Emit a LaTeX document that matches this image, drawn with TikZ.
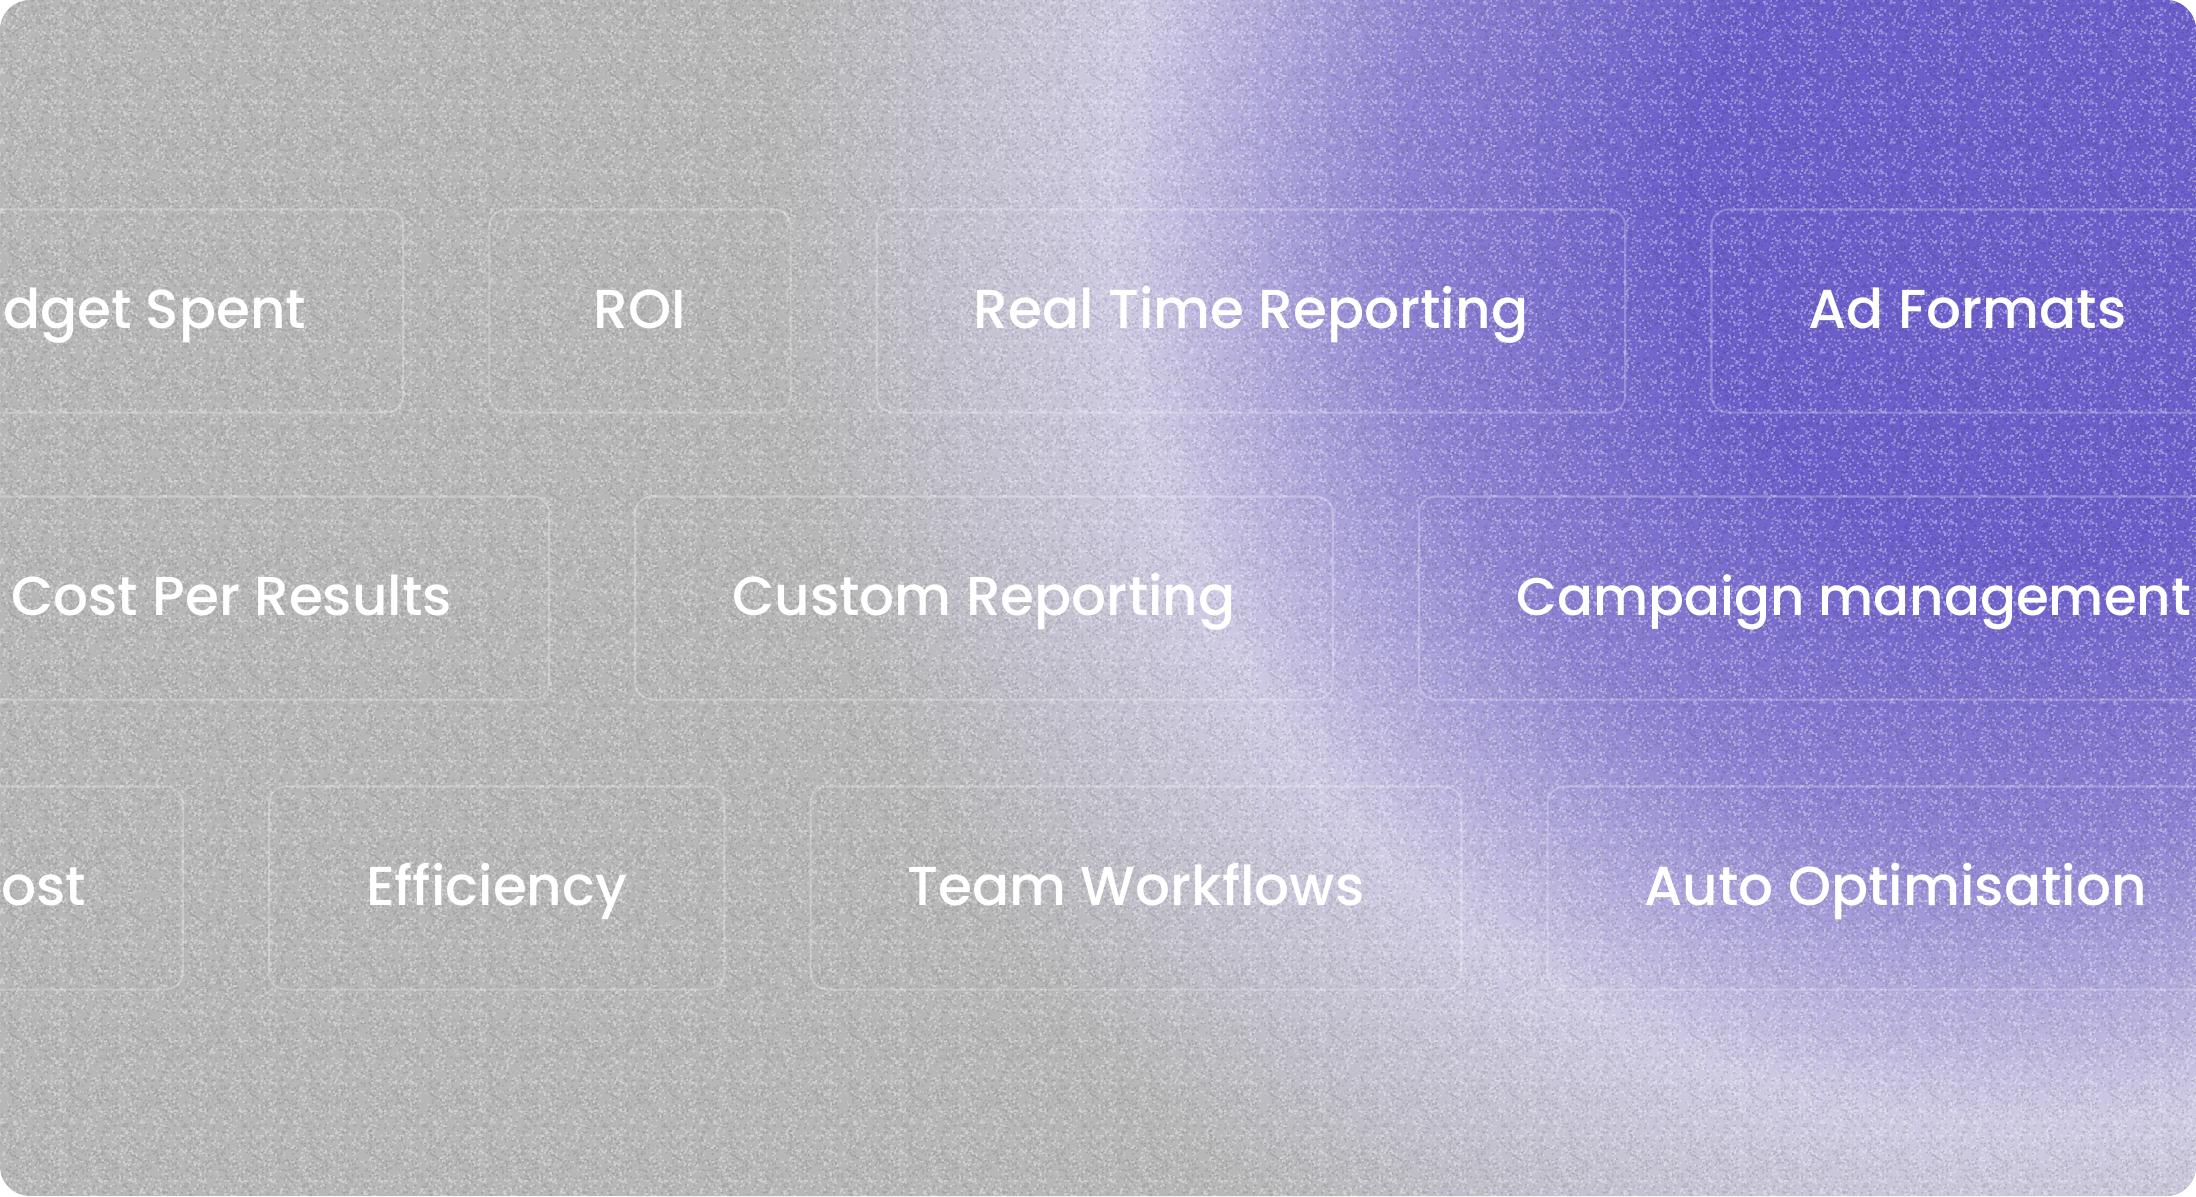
\documentclass[tikz,border=0pt]{standalone}
\usepackage{fontspec}
\usepackage{xcolor}
\usepackage{tikz}
\usetikzlibrary{positioning, patterns}

\newfontfamily\tagfont{Poppins Medium}

\definecolor{bggray}{HTML}{B7B7B7}
\definecolor{lavender}{HTML}{CFCBE4}
\definecolor{midpurple}{HTML}{8D82D3}
\definecolor{glow}{HTML}{6C5FCB}

\pgfdeclareradialshading{topglow}{\pgfpoint{0bp}{0bp}}{%
  color(0bp)=(glow); color(6.25bp)=(glow); color(11.25bp)=(midpurple);
  color(16.25bp)=(lavender); color(22.5bp)=(bggray); color(50bp)=(bggray)}

% Grain du fond
\pgfmathsetseed{4711}
\pgfdeclarepatternformonly{grain}{\pgfpointorigin}{\pgfpoint{20pt}{20pt}}{\pgfpoint{20pt}{20pt}}{%
  \foreach \i in {1,...,260}{%
    \pgfmathsetmacro{\gx}{19.5*rnd}%
    \pgfmathsetmacro{\gy}{19.5*rnd}%
    \pgfpathrectangle{\pgfpoint{\gx pt}{\gy pt}}{\pgfpoint{0.5pt}{0.5pt}}%
  }%
  \pgfusepath{fill}}
\pgfdeclarepatternformonly{grainb}{\pgfpointorigin}{\pgfpoint{17pt}{17pt}}{\pgfpoint{17pt}{17pt}}{%
  \foreach \i in {1,...,200}{%
    \pgfmathsetmacro{\gx}{16.5*rnd}%
    \pgfmathsetmacro{\gy}{16.5*rnd}%
    \pgfpathrectangle{\pgfpoint{\gx pt}{\gy pt}}{\pgfpoint{0.5pt}{0.5pt}}%
  }%
  \pgfusepath{fill}}

\tikzset{
  tag/.style={draw=white, draw opacity=0.26, line width=0.6pt,
    rounded corners=0.17cm, minimum height=2.03cm, inner xsep=0.97cm,
    text height=1em, text depth=0pt,
    text=white, font=\tagfont\fontsize{15.6}{18}\selectfont},
}

\begin{document}
\begin{tikzpicture}[x=0.01cm, y=-0.01cm, node distance=0.84cm]
    \useasboundingbox (0,0) rectangle (2196,1196);

    \begin{scope}
        \clip[rounded corners=0.3cm] (0,0) rectangle (2196,1196);

        % Fond dégradé
        \fill[bggray] (0,0) rectangle (2196,1196);
        \shade[shading=topglow] (630,-1190) rectangle (3430,1610);
        \fill[pattern=grain, pattern color=white, opacity=0.35] (0,0) rectangle (2196,1196);
        \fill[pattern=grainb, pattern color=black, opacity=0.10] (0,0) rectangle (2196,1196);

        % Première ligne
        \node[tag] (rtr) at (1251,311) {Real Time Reporting};
        \node[tag, left=of rtr, minimum width=3.01cm] (roi) {ROI};
        \node[tag, left=of roi] (budget) {Budget Spent};
        \node[tag, right=of rtr] (formats) {Ad Formats};

        % Deuxième ligne
        \node[tag] (custom) at (984,598) {Custom Reporting};
        \node[tag, left=of custom] (cpr) {Cost Per Results};
        \node[tag, right=of custom, font=\tagfont\fontsize{15.1}{18}\selectfont] (campaign) {Campaign management};

        % Troisième ligne
        \node[tag] (team) at (1136,888) {Team Workflows};
        \node[tag, left=of team] (effic) {Efficiency};
        \node[tag, left=of effic] (cost) {Cost};
        \node[tag, right=of team] (auto) {Auto Optimisation};
    \end{scope}

\end{tikzpicture}
\end{document}
